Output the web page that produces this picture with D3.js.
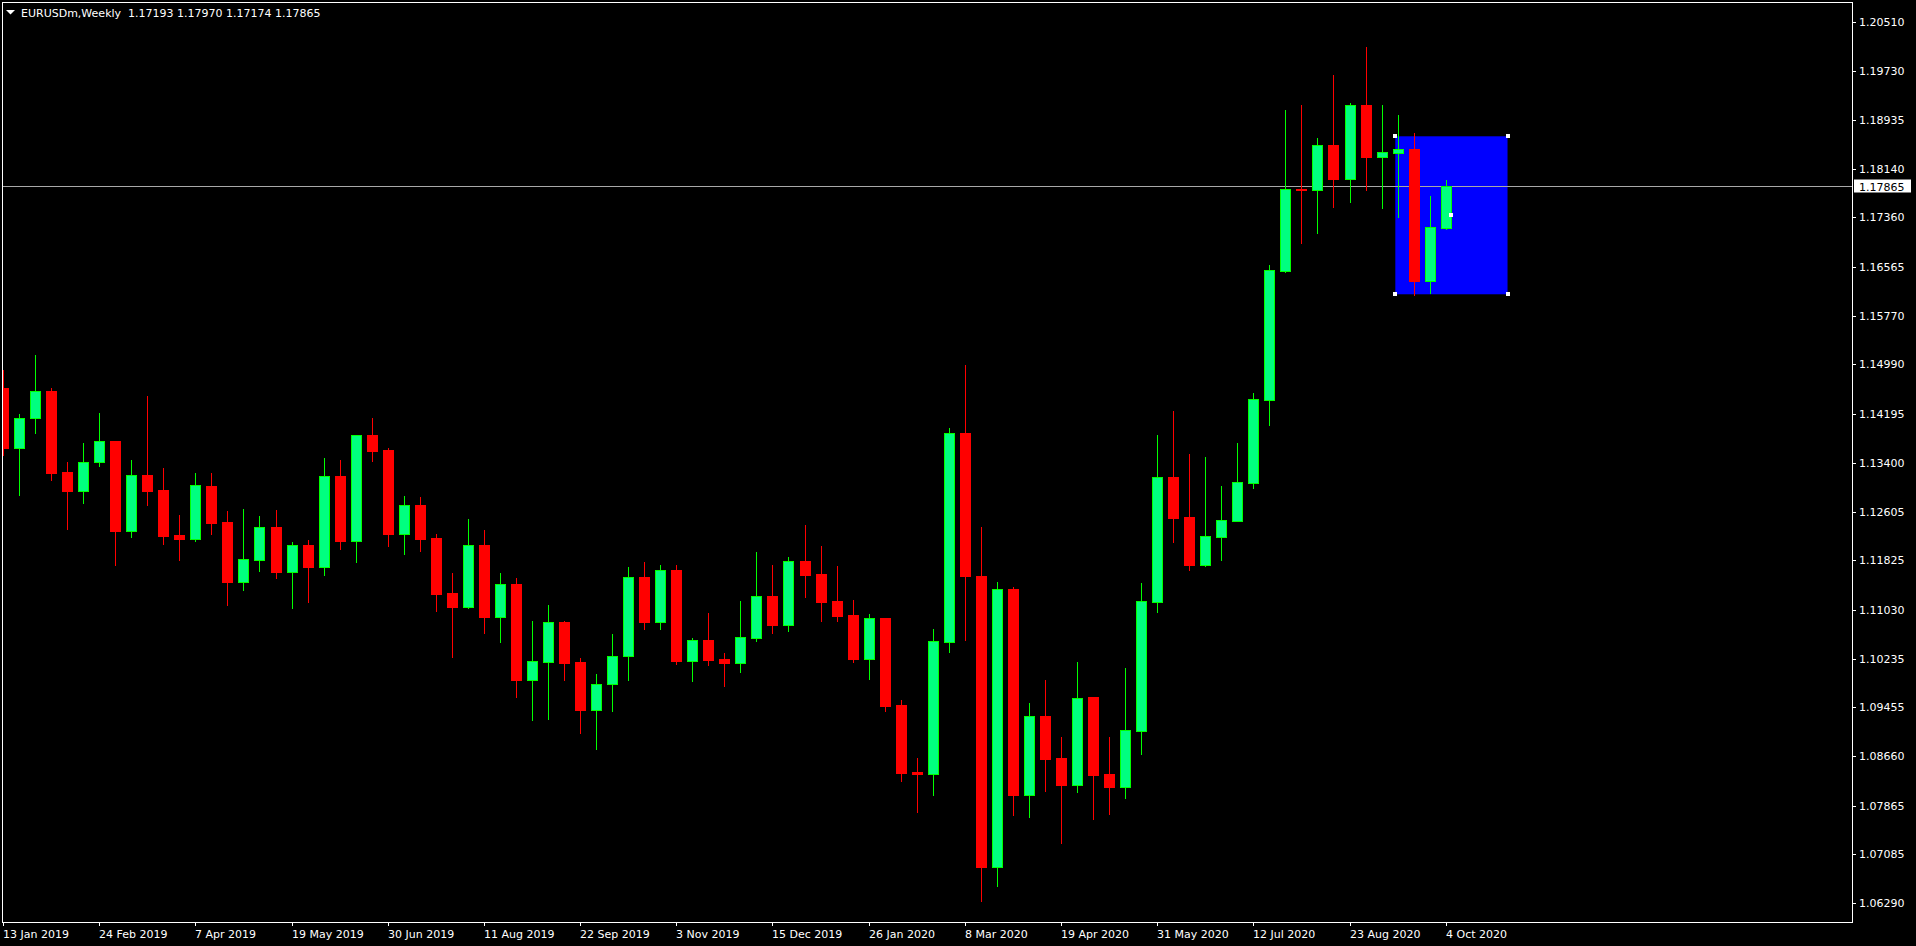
<!DOCTYPE html>
<html><head><meta charset="utf-8">
<script src="https://cdn.jsdelivr.net/npm/d3@7"></script>
<style>
html,body{margin:0;padding:0;background:#000;overflow:hidden}
svg{display:block}
text{font-family:"DejaVu Sans",sans-serif;font-size:11px;fill:#fff;white-space:pre}
</style></head>
<body><svg id="c" width="1916" height="946"></svg>
<script>
const symbolTitle = "EURUSDm,Weekly  1.17193 1.17970 1.17174 1.17865";
const dates = ["2019-01-13","2019-01-20","2019-01-27","2019-02-03","2019-02-10","2019-02-17","2019-02-24","2019-03-03","2019-03-10","2019-03-17","2019-03-24","2019-03-31","2019-04-07","2019-04-14","2019-04-21","2019-04-28","2019-05-05","2019-05-12","2019-05-19","2019-05-26","2019-06-02","2019-06-09","2019-06-16","2019-06-23","2019-06-30","2019-07-07","2019-07-14","2019-07-21","2019-07-28","2019-08-04","2019-08-11","2019-08-18","2019-08-25","2019-09-01","2019-09-08","2019-09-15","2019-09-22","2019-09-29","2019-10-06","2019-10-13","2019-10-20","2019-10-27","2019-11-03","2019-11-10","2019-11-17","2019-11-24","2019-12-01","2019-12-08","2019-12-15","2019-12-22","2019-12-29","2020-01-05","2020-01-12","2020-01-19","2020-01-26","2020-02-02","2020-02-09","2020-02-16","2020-02-23","2020-03-01","2020-03-08","2020-03-15","2020-03-22","2020-03-29","2020-04-05","2020-04-12","2020-04-19","2020-04-26","2020-05-03","2020-05-10","2020-05-17","2020-05-24","2020-05-31","2020-06-07","2020-06-14","2020-06-21","2020-06-28","2020-07-05","2020-07-12","2020-07-19","2020-07-26","2020-08-02","2020-08-09","2020-08-16","2020-08-23","2020-08-30","2020-09-06","2020-09-13","2020-09-20","2020-09-27","2020-10-04"];
const open = [1.14603,1.13644,1.14128,1.14559,1.13247,1.12950,1.13418,1.13752,1.12304,1.13203,1.12961,1.12230,1.12175,1.13026,1.12445,1.11481,1.11836,1.12359,1.11642,1.12068,1.11723,1.13187,1.12143,1.13844,1.13607,1.12256,1.12714,1.12181,1.11294,1.11077,1.12068,1.10916,1.11439,1.09899,1.10190,1.10826,1.10180,1.09415,1.09825,1.10277,1.11552,1.10835,1.11665,1.10206,1.10535,1.10228,1.10174,1.10577,1.11245,1.10787,1.11810,1.11600,1.11168,1.10944,1.10235,1.10897,1.09491,1.08408,1.08384,1.10511,1.13883,1.11571,1.06879,1.11365,1.08045,1.09313,1.08635,1.08200,1.09620,1.08377,1.08172,1.09076,1.11158,1.13166,1.12520,1.11755,1.12207,1.12466,1.13079,1.14414,1.16496,1.17815,1.17803,1.18530,1.17981,1.19175,1.18336,1.18401,1.18465,1.16335,1.17193];
const high = [1.14898,1.14188,1.15140,1.14603,1.13408,1.13715,1.14199,1.13752,1.13445,1.14478,1.13316,1.12557,1.13235,1.13235,1.12622,1.12654,1.12541,1.12638,1.12122,1.12154,1.13473,1.13445,1.13844,1.14123,1.13634,1.12859,1.12843,1.12251,1.11617,1.12500,1.12315,1.11617,1.11536,1.10847,1.11105,1.10847,1.10249,1.09991,1.10637,1.11718,1.11799,1.11750,1.11750,1.10572,1.10976,1.10330,1.11169,1.11960,1.11750,1.11880,1.12396,1.12057,1.11733,1.11186,1.10955,1.10897,1.09572,1.08637,1.10713,1.13963,1.14979,1.12362,1.11474,1.11394,1.09525,1.09894,1.08974,1.10185,1.09620,1.08974,1.10088,1.11460,1.13849,1.14236,1.13542,1.13494,1.13026,1.13720,1.14527,1.16593,1.19095,1.19175,1.18647,1.19659,1.19208,1.20111,1.19175,1.19014,1.18723,1.17706,1.17970];
const low = [1.13526,1.12880,1.13886,1.13123,1.12332,1.12756,1.13348,1.11750,1.12207,1.12719,1.12094,1.11831,1.12143,1.12256,1.11105,1.11347,1.11654,1.11546,1.11061,1.11158,1.11594,1.12014,1.11804,1.13434,1.12062,1.11933,1.11981,1.11013,1.10270,1.11061,1.10658,1.10513,1.09625,1.09249,1.09265,1.09899,1.09044,1.08781,1.09394,1.09899,1.10722,1.10722,1.10157,1.09883,1.10141,1.09802,1.10023,1.10529,1.10658,1.10690,1.11239,1.10851,1.10851,1.10188,1.09917,1.09399,1.08269,1.07767,1.08045,1.10350,1.10546,1.06326,1.06574,1.07722,1.07675,1.08108,1.07268,1.08091,1.07651,1.07732,1.07995,1.08700,1.10992,1.12122,1.11670,1.11739,1.11831,1.12466,1.12998,1.14010,1.16485,1.16948,1.17109,1.17529,1.17610,1.17803,1.17513,1.17368,1.16109,1.16141,1.17174];
const close = [1.13644,1.14118,1.14559,1.13240,1.12950,1.13408,1.13752,1.12299,1.13203,1.12950,1.12223,1.12175,1.13037,1.12433,1.11481,1.11843,1.12359,1.11642,1.12068,1.11723,1.13182,1.12143,1.13844,1.13595,1.12256,1.12714,1.12175,1.11287,1.11077,1.12068,1.10916,1.11439,1.09899,1.10196,1.10826,1.10174,1.09415,1.09825,1.10277,1.11552,1.10835,1.11665,1.10206,1.10535,1.10222,1.10174,1.10584,1.11245,1.10787,1.11810,1.11594,1.11158,1.10926,1.10235,1.10897,1.09473,1.08401,1.08384,1.10517,1.13883,1.11578,1.06879,1.11365,1.08045,1.09312,1.08619,1.08200,1.09599,1.08361,1.08172,1.09082,1.11165,1.13166,1.12514,1.11755,1.12214,1.12472,1.13085,1.14430,1.16512,1.17819,1.17803,1.18530,1.17981,1.19175,1.18336,1.18417,1.18465,1.16335,1.17206,1.17865];
const priceTicks = [1.20510,1.19730,1.18935,1.18140,1.17360,1.16565,1.15770,1.14990,1.14195,1.13400,1.12605,1.11825,1.11030,1.10235,1.09455,1.08660,1.07865,1.07085,1.06290];
const timeTickDates = ["2019-01-13","2019-02-24","2019-04-07","2019-05-19","2019-06-30","2019-08-11","2019-09-22","2019-11-03","2019-12-15","2020-01-26","2020-03-08","2020-04-19","2020-05-31","2020-07-12","2020-08-23","2020-10-04"];
const timeTickLabels = ["13 Jan 2019","24 Feb 2019","7 Apr 2019","19 May 2019","30 Jun 2019","11 Aug 2019","22 Sep 2019","3 Nov 2019","15 Dec 2019","26 Jan 2020","8 Mar 2020","19 Apr 2020","31 May 2020","12 Jul 2020","23 Aug 2020","4 Oct 2020"];
const boxTimes = ["2020-09-12","2020-10-31"];
const boxPrices = [1.18670,1.16120];
const lastPrice = 1.17865;

const parse = d3.timeParse("%Y-%m-%d");
const svg = d3.select("#c");
const F = {l:2, t:2, r:1852, b:922};
const x = d3.scaleTime().domain([parse(dates[0]), parse(dates[dates.length-1])]).range([3, 3 + 16.03*90]);
const y = d3.scaleLinear().domain([1.06290, 1.20510]).range([903.3, 22.3]);

svg.append("rect").attr("width",1916).attr("height",946).attr("fill","#000");
svg.append("defs").append("clipPath").attr("id","clip").append("rect")
  .attr("x",F.l+1).attr("y",F.t+1).attr("width",F.r-F.l-1).attr("height",F.b-F.t-1);
const g = svg.append("g").attr("clip-path","url(#clip)");

// blue rectangle object
const bx0 = x(parse(boxTimes[0])), bx1 = x(parse(boxTimes[1]));
const by0 = y(boxPrices[0]), by1 = y(boxPrices[1]);
g.append("rect").attr("x",bx0).attr("y",by0).attr("width",bx1-bx0).attr("height",by1-by0).attr("fill","#0000ff");

// price line
const py = Math.round(y(lastPrice))+0.5;
g.append("line").attr("x1",F.l).attr("x2",F.r).attr("y1",py).attr("y2",py).attr("stroke","#a8a8a8").attr("stroke-width",1);

// candles
const data = dates.map((d,i)=>({t:parse(d),o:open[i],h:high[i],l:low[i],c:close[i]}));
const cg = g.append("g");
data.forEach(d=>{
  const bull = d.c >= d.o;
  const wickCol = bull ? "#00ff00" : "#ff0000";
  const fillCol = bull ? "#00ff7f" : "#ff0000";
  const cx = Math.round(x(d.t));
  cg.append("line").attr("x1",cx+0.5).attr("x2",cx+0.5)
    .attr("y1",Math.round(y(d.h))).attr("y2",Math.round(y(d.l))+1)
    .attr("stroke",wickCol).attr("stroke-width",1);
  const top = Math.round(y(Math.max(d.o,d.c))), bot = Math.round(y(Math.min(d.o,d.c)));
  cg.append("rect").attr("x",cx-5+0.5).attr("y",top+0.5).attr("width",10).attr("height",Math.max(bot-top,0))
    .attr("fill",fillCol).attr("stroke",wickCol).attr("stroke-width",1);
});

// rectangle handles
[[bx0,by0],[bx1,by0],[bx0,by1],[bx1,by1],[(bx0+bx1)/2,(by0+by1)/2]].forEach(p=>{
  svg.append("rect").attr("x",Math.round(p[0])-2).attr("y",Math.round(p[1])-2).attr("width",4).attr("height",4)
    .attr("fill","#fff");
});

// frame
svg.append("rect").attr("x",F.l+0.5).attr("y",F.t+0.5).attr("width",F.r-F.l).attr("height",F.b-F.t)
  .attr("fill","none").attr("stroke","#fff").attr("stroke-width",1);

// price axis
const ya = svg.append("g");
priceTicks.forEach(v=>{
  const yy = y(v);
  ya.append("line").attr("x1",F.r+1).attr("x2",F.r+4).attr("y1",Math.round(yy)+0.5).attr("y2",Math.round(yy)+0.5).attr("stroke","#fff");
  ya.append("text").attr("x",F.r+7).attr("y",yy+4).text(v.toFixed(5));
});
// current price label
ya.append("rect").attr("x",F.r+2).attr("y",py-7).attr("width",57).attr("height",13).attr("fill","#fff");
ya.append("text").attr("x",F.r+7).attr("y",py+4).style("fill","#000").text(lastPrice.toFixed(5));

// time axis
const xa = svg.append("g");
timeTickDates.forEach((d,i)=>{
  const xx = Math.round(x(parse(d)));
  xa.append("line").attr("x1",xx+0.5).attr("x2",xx+0.5).attr("y1",F.b).attr("y2",F.b+4).attr("stroke","#fff");
  xa.append("text").attr("x",xx).attr("y",938).text(timeTickLabels[i]);
});

// title
svg.append("path").attr("d","M6,10 L15,10 L10.5,14.5 Z").attr("fill","#fff");
svg.append("text").attr("x",21).attr("y",17).text(symbolTitle);
</script></body></html>
